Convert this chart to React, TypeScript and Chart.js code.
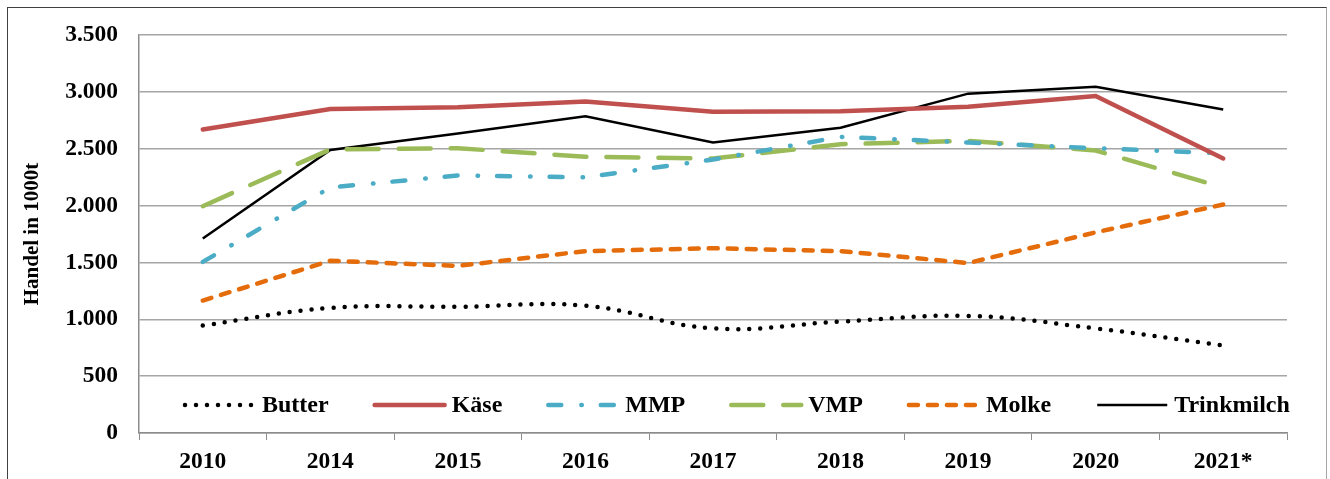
import React, { useEffect, useRef } from "react";
import { Chart, registerables } from "chart.js";

Chart.register(...registerables);

const years = ["2010", "2014", "2015", "2016", "2017", "2018", "2019", "2020", "2021*"];
const butter = [945, 1100, 1110, 1120, 920, 980, 1030, 920, 770];
const kaese = [2670, 2850, 2865, 2915, 2825, 2830, 2870, 2965, 2415];
const mmp = [1505, 2160, 2265, 2250, 2405, 2605, 2555, 2505, 2460];
const vmp = [1995, 2495, 2505, 2430, 2415, 2540, 2570, 2485, 2160];
const molke = [1165, 1515, 1470, 1600, 1625, 1600, 1495, 1765, 2010];
const trinkmilch = [1710, 2490, 2635, 2785, 2555, 2685, 2985, 3045, 2845];
const yTicks = [0, 500, 1000, 1500, 2000, 2500, 3000, 3500];

const FONT = "'Liberation Serif', 'Times New Roman', serif";

const fmt = (v: number) => {
  const s = String(Math.round(v));
  return s.replace(/\B(?=(\d{3})+(?!\d))/g, ".");
};

const legendPlugin = {
  id: "insideLegend",
  afterDraw(chart: any) {
    const ctx = chart.ctx;
    const y = 405;
    let x = 185;
    const sample = 70;
    ctx.save();
    ctx.font = `bold 24px ${FONT}`;
    ctx.textBaseline = "middle";
    ctx.textAlign = "left";
    chart.data.datasets.forEach((ds: any) => {
      ctx.save();
      ctx.strokeStyle = ds.borderColor;
      ctx.lineWidth = ds.borderWidth;
      ctx.lineCap = ds.borderCapStyle || "butt";
      ctx.setLineDash(ds.borderDash || []);
      ctx.beginPath();
      ctx.moveTo(x, y);
      ctx.lineTo(x + sample, y);
      ctx.stroke();
      ctx.restore();
      ctx.fillStyle = "#000";
      const tx = x + sample + 7;
      ctx.fillText(ds.label, tx, y + 1);
      x = tx + ctx.measureText(ds.label).width + 46;
    });
    ctx.restore();
  },
};

export default function App() {
  const ref = useRef<HTMLCanvasElement | null>(null);
  useEffect(() => {
    if (!ref.current) return;
    const chart = new Chart(ref.current, {
      type: "line",
      data: {
        labels: years,
        datasets: [
          {
            label: "Butter",
            data: butter,
            borderColor: "#000000",
            borderWidth: 4.5,
            borderDash: [0, 11],
            borderCapStyle: "round",
            tension: 0.4,
            pointRadius: 0,
            fill: false,
          },
          {
            label: "Käse",
            data: kaese,
            borderColor: "#C0504D",
            borderWidth: 4.5,
            borderCapStyle: "round",
            pointRadius: 0,
            fill: false,
          },
          {
            label: "MMP",
            data: mmp,
            borderColor: "#4BACC6",
            borderWidth: 4.5,
            borderDash: [13, 20, 0.5, 19],
            borderCapStyle: "round",
            pointRadius: 0,
            fill: false,
          },
          {
            label: "VMP",
            data: vmp,
            borderColor: "#9BBB59",
            borderWidth: 4.5,
            borderDash: [32, 20],
            borderCapStyle: "round",
            pointRadius: 0,
            fill: false,
          },
          {
            label: "Molke",
            data: molke,
            borderColor: "#E46C0A",
            borderWidth: 4.5,
            borderDash: [9, 10],
            borderCapStyle: "round",
            pointRadius: 0,
            fill: false,
          },
          {
            label: "Trinkmilch",
            data: trinkmilch,
            borderColor: "#000000",
            borderWidth: 2.5,
            pointRadius: 0,
            fill: false,
          },
        ],
      },
      options: {
        animation: false,
        responsive: false,
        maintainAspectRatio: false,
        layout: { padding: { left: 16, top: 33, right: 43, bottom: 0 } },
        plugins: {
          legend: { display: false },
          tooltip: { enabled: false },
        },
        scales: {
          x: {
            offset: true,
            grid: {
              offset: true,
              drawOnChartArea: false,
              drawTicks: true,
              tickLength: 7,
              color: "#8c8c8c",
            },
            border: { display: true, color: "#8c8c8c", width: 1.5 },
            ticks: {
              color: "#000",
              font: { family: FONT, size: 23.5, weight: "bold" },
              padding: 8,
              maxRotation: 0,
              autoSkip: false,
            },
            afterFit: (s: any) => {
              s.height = 46;
            },
          },
          y: {
            min: 0,
            max: 3500,
            afterBuildTicks: (s: any) => {
              s.ticks = yTicks.map((v) => ({ value: v }));
            },
            grid: { color: "#a6a6a6", lineWidth: 1.5, drawTicks: false },
            border: { display: true, color: "#8c8c8c", width: 1.5 },
            ticks: {
              color: "#000",
              font: { family: FONT, size: 23.5, weight: "bold" },
              padding: 21,
              callback: (v: any) => fmt(Number(v)),
            },
            title: {
              display: true,
              text: "Handel in 1000t",
              color: "#000",
              font: { family: FONT, size: 21, weight: "bold" },
              padding: { top: 4, bottom: 0 },
            },
            afterFit: (s: any) => {
              s.width = 123;
            },
          },
        },
      },
      plugins: [legendPlugin],
    });
    return () => chart.destroy();
  }, []);

  return (
    <>
      <div
        style={{
          position: "fixed",
          left: 7,
          top: 7,
          width: 1320,
          height: 520,
          borderLeft: "1px solid #404040",
          borderTop: "1px solid #404040",
          borderRight: "1px solid #a6a6a6",
          boxSizing: "border-box",
        }}
      />
      <div style={{ position: "fixed", left: 0, top: 0, width: 1330, height: 479 }}>
        <canvas ref={ref} width={1330} height={479} style={{ width: 1330, height: 479 }} />
      </div>
    </>
  );
}
